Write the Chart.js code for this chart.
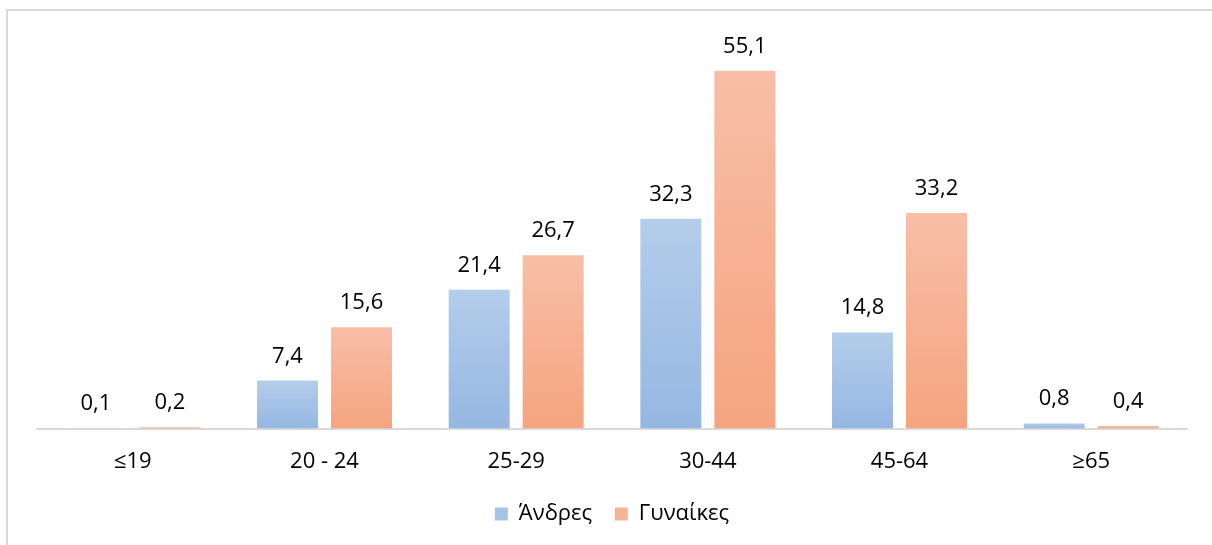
<!DOCTYPE html>
<html>
<head>
<meta charset="utf-8">
<script src="https://cdn.jsdelivr.net/npm/chart.js@4.4.1/dist/chart.umd.min.js"></script>
<style>
  html, body { margin: 0; padding: 0; background: #fff; overflow: hidden; }
  #frame { position: absolute; left: 6px; top: 9px; width: 1300px; height: 700px; border: 2px solid #d9d9d9; box-sizing: border-box; }
  #wrap { position: absolute; left: 0; top: 0; width: 1212px; height: 545px; }
</style>
</head>
<body>
<div id="frame"></div>
<div id="wrap"><canvas id="c" width="1212" height="545"></canvas></div>
<script>
const categories = ["≤19", "20 - 24", "25-29", "30-44", "45-64", "≥65"];
const menLabel = "Άνδρες";
const womenLabel = "Γυναίκες";
const menValues = [0.1, 7.4, 21.4, 32.3, 14.8, 0.8];
const womenValues = [0.2, 15.6, 26.7, 55.1, 33.2, 0.4];

const FONT = "'Open Sans', 'DejaVu Sans', sans-serif";

function gradientFor(topColor, bottomColor) {
  return function (ctx) {
    const chart = ctx.chart;
    if (ctx.type !== 'data' || !chart.chartArea || !chart.scales.y) return bottomColor;
    const v = ctx.raw;
    const y = chart.scales.y;
    const top = y.getPixelForValue(v);
    const base = y.getPixelForValue(0);
    if (!isFinite(top) || !isFinite(base) || Math.abs(base - top) < 1) return topColor;
    const g = chart.ctx.createLinearGradient(0, top, 0, base);
    g.addColorStop(0, topColor);
    g.addColorStop(1, bottomColor);
    return g;
  };
}

const valueLabels = {
  id: 'valueLabels',
  afterDatasetsDraw(chart) {
    const c = chart.ctx;
    c.save();
    c.font = "22px " + FONT;
    c.fillStyle = "#000";
    c.textAlign = "center";
    c.textBaseline = "alphabetic";
    chart.data.datasets.forEach((ds, di) => {
      const meta = chart.getDatasetMeta(di);
      meta.data.forEach((el, i) => {
        const txt = ds.data[i].toFixed(1).replace('.', ',');
        c.fillText(txt, el.x, el.y - 18);
      });
    });
    c.restore();
  }
};

new Chart(document.getElementById('c'), {
  type: 'bar',
  data: {
    labels: categories,
    datasets: [
      {
        label: menLabel,
        data: menValues,
        backgroundColor: gradientFor('#b4cdea', '#94b7e2'),
        borderWidth: 0,
        barPercentage: 0.824,
        categoryPercentage: 0.772
      },
      {
        label: womenLabel,
        data: womenValues,
        backgroundColor: gradientFor('#f8bea7', '#f5a47f'),
        borderWidth: 0,
        barPercentage: 0.824,
        categoryPercentage: 0.772
      }
    ]
  },
  options: {
    responsive: false,
    animation: false,
    devicePixelRatio: 1,
    layout: { padding: { left: 37, right: 25, top: 39, bottom: 10 } },
    scales: {
      x: {
        grid: { display: false, drawTicks: false },
        border: { display: true, color: '#d9d9d9', width: 2 },
        ticks: { color: '#000', font: { family: FONT, size: 22 }, padding: 20 }
      },
      y: {
        display: false,
        min: 0,
        max: 60
      }
    },
    plugins: {
      legend: {
        position: 'bottom',
        labels: {
          color: '#000',
          font: { family: FONT, size: 22 },
          boxWidth: 13,
          boxHeight: 13,
          padding: 8,
          generateLabels(chart) {
            const cols = ['#a7c3e7', '#f7b397'];
            const pad = ['\u2002\u2009', ''];
            return chart.data.datasets.map((ds, i) => ({
              text: ds.label + pad[i],
              fillStyle: cols[i],
              strokeStyle: cols[i],
              lineWidth: 0,
              datasetIndex: i,
              hidden: false,
              fontColor: '#000'
            }));
          }
        }
      },
      tooltip: { enabled: false }
    }
  },
  plugins: [valueLabels]
});
</script>
</body>
</html>
